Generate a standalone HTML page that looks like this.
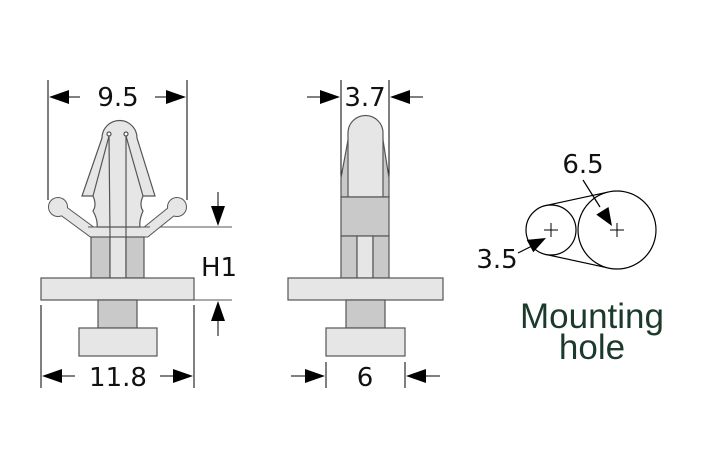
<!DOCTYPE html>
<html><head><style>body{margin:0;background:#fff}svg{display:block}</style></head><body>
<svg width="709" height="472" viewBox="0 0 709 472" xmlns="http://www.w3.org/2000/svg" font-family="'DejaVu Sans','Liberation Sans',sans-serif">
<!-- LEFT VIEW -->
<g stroke="#000" stroke-width="1" fill="none">
<line x1="48" y1="80" x2="48" y2="200"/><line x1="187" y1="80" x2="187" y2="200"/>
<line x1="80" y1="97" x2="60" y2="97"/><line x1="155" y1="97" x2="175" y2="97"/>
<line x1="41" y1="305" x2="41" y2="388"/><line x1="194" y1="305" x2="194" y2="388"/>
<line x1="75" y1="376" x2="55" y2="376"/><line x1="160" y1="376" x2="180" y2="376"/>
<line x1="218" y1="192" x2="218" y2="210"/><line x1="218" y1="336" x2="218" y2="318"/>
</g>
<g fill="#000">
<polygon points="49,97 69,90 69,104"/><polygon points="186,97 166,90 166,104"/>
<polygon points="42,376 62,369 62,383"/><polygon points="193,376 173,369 173,383"/>
<polygon points="218,226 211,206 225,206"/><polygon points="218,301 211,321 225,321"/>
<polygon points="340,97 320,90 320,104"/><polygon points="390,97 410,90 410,104"/>
<polygon points="325,376 305,369 305,383"/><polygon points="406,376 426,369 426,383"/>
</g>
<line x1="150" y1="227" x2="232" y2="227" stroke="#555"/><line x1="194" y1="300" x2="232" y2="300" stroke="#555"/>
<!-- arms -->
<g stroke="#555" stroke-width="11" stroke-linecap="round" fill="none"><polyline points="58,207 92,232 146,232 177,207"/></g>
<circle cx="58" cy="207" r="10" fill="#555"/><circle cx="177" cy="207" r="10" fill="#555"/>
<g stroke="#e6e6e6" stroke-width="9" stroke-linecap="round" fill="none"><polyline points="58,207 92,232 146,232 177,207"/></g>
<circle cx="58" cy="207" r="9" fill="#e6e6e6"/><circle cx="177" cy="207" r="9" fill="#e6e6e6"/>
<rect x="90" y="228" width="58" height="8" fill="#e6e6e6"/>
<path d="M82,196 L102,138 A17.5,17.5 0 0 1 137,138 L155,196 L143,196 Q139,205 143,211 Q139,220 140,227 L97,227 Q98,220 93,211 Q97,205 93,196 Z" fill="#e6e6e6" stroke="#555" stroke-width="1.2"/>
<line x1="88" y1="227" x2="150" y2="227" stroke="#555"/>
<g stroke="#555" stroke-width="1.2" fill="none">
<line x1="109" y1="136" x2="93" y2="196"/><line x1="109" y1="136" x2="110" y2="237"/>
<line x1="126" y1="136" x2="143" y2="196"/><line x1="126" y1="136" x2="126" y2="237"/>
<circle cx="109" cy="134" r="2" fill="#fff"/><circle cx="126" cy="134" r="2" fill="#fff"/>
</g>
<g stroke="#555" stroke-width="1.2">
<rect x="91" y="237" width="19" height="41" fill="#c9c9c9"/><rect x="110" y="237" width="16" height="41" fill="#e6e6e6"/><rect x="126" y="237" width="18" height="41" fill="#c9c9c9"/>
<rect x="41" y="278" width="153" height="22" fill="#e6e6e6"/>
<rect x="98" y="300" width="39" height="28" fill="#c9c9c9"/>
<rect x="79" y="328" width="78" height="28" fill="#e6e6e6"/>
</g>
<g font-size="26" text-anchor="middle" fill="#111">
<text x="118" y="106">9.5</text><text x="118" y="386">11.8</text><text x="219" y="276">H1</text>
<text x="365" y="106">3.7</text><text x="365" y="386">6</text>
<text x="583" y="173">6.5</text><text x="497" y="268">3.5</text>
</g>
<!-- MIDDLE VIEW -->
<g stroke="#000" stroke-width="1" fill="none">
<line x1="341" y1="80" x2="341" y2="200"/><line x1="389" y1="80" x2="389" y2="200"/>
<line x1="307" y1="97" x2="322" y2="97"/><line x1="423" y1="97" x2="408" y2="97"/>
<line x1="326" y1="362" x2="326" y2="388"/><line x1="405" y1="362" x2="405" y2="388"/>
<line x1="291" y1="376" x2="307" y2="376"/><line x1="440" y1="376" x2="424" y2="376"/>
</g>
<g stroke="#555" stroke-width="1.2">
<path d="M348,140 L341,178 L341,197 L389,197 L389,178 L383,140 Z" fill="#c9c9c9"/>
<path d="M348,197 L348,133 A17.5,17.5 0 0 1 383,133 L383,197 Z" fill="#e6e6e6"/>
<rect x="341" y="197" width="48" height="39" fill="#c9c9c9"/>
<rect x="341" y="236" width="16" height="42" fill="#c9c9c9"/><rect x="357" y="236" width="16" height="42" fill="#e6e6e6"/><rect x="373" y="236" width="16" height="42" fill="#c9c9c9"/>
<rect x="288" y="278" width="155" height="22" fill="#e6e6e6"/>
<rect x="346" y="300" width="39" height="28" fill="#c9c9c9"/>
<rect x="326" y="328" width="79" height="28" fill="#e6e6e6"/>
</g>
<!-- RIGHT -->
<g stroke="#000" stroke-width="1.2" fill="none">
<line x1="545.7" y1="205.6" x2="608.7" y2="191.9"/><line x1="545.7" y1="254.4" x2="608.7" y2="268.1"/>
<circle cx="551" cy="230" r="25" fill="#fff"/><circle cx="617" cy="230" r="39" fill="#fff"/>
<path d="M544,230h14M551,223v14M610,230h14M617,223v14" stroke-width="1"/>
<line x1="583" y1="180" x2="600" y2="207"/>
<line x1="518" y1="253" x2="532" y2="246"/>
</g>
<g fill="#000">
<polygon points="612,226 596.3,214.6 608.5,207"/><polygon points="546,238 533.3,252.3 526.7,239.9"/>
</g>
<g font-size="35" text-anchor="middle" fill="#1c3a2c" font-family="'Liberation Sans',sans-serif">
<text x="592" y="328">Mounting</text><text x="592" y="359">hole</text>
</g>
</svg>
</body></html>
